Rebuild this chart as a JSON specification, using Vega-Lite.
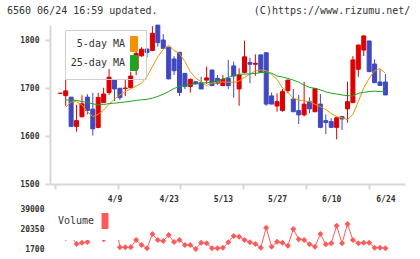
{
  "$schema": "https://vega.github.io/schema/vega-lite/v6.json",
  "width": 355,
  "height": 234,
  "autosize": {"type": "none"},
  "padding": {"left": 50, "top": 25, "right": 15, "bottom": 0},
  "background": "white",
  "config": {"view": {"stroke": null}},
  "title": {
    "text": "6560 06/24 16:59 updated.\u00a0\u00a0\u00a0\u00a0\u00a0\u00a0\u00a0\u00a0\u00a0\u00a0\u00a0\u00a0\u00a0\u00a0\u00a0\u00a0(C)https://www.rizumu.net/",
    "anchor": "start", "frame": "group", "dx": -43, "offset": 1, "baseline": "alphabetic",
    "font": "DejaVu Sans Mono", "fontSize": 10, "fontWeight": "normal", "color": "#333"
  },
  "data": {"values": [
    {"i": -1, "o": 1689, "h": 1689, "l": 1689, "c": 1689, "v": 30000},
    {"i": 0, "o": 1684, "h": 1717, "l": 1663, "c": 1694, "ma5": 1660, "ma25": 1675, "v": 11950},
    {"i": 1, "o": 1681, "h": 1681, "l": 1620, "c": 1620, "ma5": 1671, "ma25": 1675, "v": 13500},
    {"i": 2, "o": 1620, "h": 1665, "l": 1609, "c": 1632, "ma5": 1671.5, "ma25": 1674, "v": 6360},
    {"i": 3, "o": 1640, "h": 1685, "l": 1639, "c": 1667, "ma5": 1664.5, "ma25": 1672, "v": 7575},
    {"i": 4, "o": 1681, "h": 1687, "l": 1645, "c": 1653, "ma5": 1650.5, "ma25": 1670, "v": 8230},
    {"i": 5, "o": 1656, "h": 1690, "l": 1601, "c": 1615, "ma5": 1640.5, "ma25": 1667, "v": 20350},
    {"i": 6, "o": 1618, "h": 1690, "l": 1616, "c": 1680.5, "ma5": 1645, "ma25": 1665, "v": 13350},
    {"i": 7, "o": 1669.5, "h": 1700.5, "l": 1669, "c": 1687.5, "ma5": 1654, "ma25": 1665.5, "v": 10750},
    {"i": 8, "o": 1690.5, "h": 1739.5, "l": 1685.5, "c": 1722.5, "ma5": 1666, "ma25": 1667.5, "v": 13350},
    {"i": 9, "o": 1716.5, "h": 1716.5, "l": 1673, "c": 1698, "ma5": 1677, "ma25": 1668.5, "v": 33000},
    {"i": 10, "o": 1699.5, "h": 1700, "l": 1675, "c": 1680, "ma5": 1685.5, "ma25": 1669.5, "v": 3280},
    {"i": 11, "o": 1699, "h": 1718, "l": 1683, "c": 1700, "ma5": 1692.5, "ma25": 1671, "v": 3280},
    {"i": 12, "o": 1700.5, "h": 1734, "l": 1700, "c": 1725, "ma5": 1698, "ma25": 1672.5, "v": 3280},
    {"i": 13, "o": 1739.5, "h": 1775, "l": 1727, "c": 1772, "ma5": 1704, "ma25": 1674, "v": 10090},
    {"i": 14, "o": 1767, "h": 1785, "l": 1765, "c": 1781, "ma5": 1710, "ma25": 1675.5, "v": 5430},
    {"i": 15, "o": 1781, "h": 1783, "l": 1764, "c": 1774, "ma5": 1723.5, "ma25": 1676.5, "v": 2350},
    {"i": 16, "o": 1778, "h": 1829, "l": 1777, "c": 1814, "ma5": 1744.5, "ma25": 1679, "v": 15690},
    {"i": 17, "o": 1831, "h": 1831, "l": 1786, "c": 1794.5, "ma5": 1765, "ma25": 1682.5, "v": 10090},
    {"i": 18, "o": 1800, "h": 1812.5, "l": 1782, "c": 1782.5, "ma5": 1780.5, "ma25": 1687, "v": 9160},
    {"i": 19, "o": 1785, "h": 1785, "l": 1718, "c": 1719, "ma5": 1789.5, "ma25": 1692.5, "v": 14750},
    {"i": 20, "o": 1760.5, "h": 1766.5, "l": 1727, "c": 1736, "ma5": 1778, "ma25": 1699, "v": 8230},
    {"i": 21, "o": 1774.5, "h": 1774.5, "l": 1683.5, "c": 1690.5, "ma5": 1772, "ma25": 1703, "v": 10090},
    {"i": 22, "o": 1730.5, "h": 1731, "l": 1697.5, "c": 1703, "ma5": 1755, "ma25": 1705.5, "v": 5430},
    {"i": 23, "o": 1703, "h": 1720, "l": 1690.5, "c": 1718, "ma5": 1734, "ma25": 1707, "v": 5430},
    {"i": 24, "o": 1713, "h": 1714, "l": 1707, "c": 1708.5, "ma5": 1720, "ma25": 1709, "v": 1700},
    {"i": 25, "o": 1711, "h": 1723.5, "l": 1698, "c": 1698, "ma5": 1713, "ma25": 1710, "v": 7575},
    {"i": 26, "o": 1716.5, "h": 1744.5, "l": 1708.5, "c": 1721, "ma5": 1705, "ma25": 1711, "v": 6960},
    {"i": 27, "o": 1737.5, "h": 1738, "l": 1704, "c": 1705, "ma5": 1710, "ma25": 1712.5, "v": 2350},
    {"i": 28, "o": 1720, "h": 1727, "l": 1706.5, "c": 1710, "ma5": 1712.5, "ma25": 1715, "v": 2350},
    {"i": 29, "o": 1705, "h": 1727, "l": 1704, "c": 1718, "ma5": 1712.5, "ma25": 1719, "v": 2910},
    {"i": 30, "o": 1720, "h": 1758.5, "l": 1698, "c": 1705, "ma5": 1712, "ma25": 1722, "v": 7950},
    {"i": 31, "o": 1746, "h": 1755, "l": 1680, "c": 1725, "ma5": 1712, "ma25": 1726, "v": 13820},
    {"i": 32, "o": 1698, "h": 1741, "l": 1663, "c": 1727, "ma5": 1714.5, "ma25": 1728.5, "v": 13170},
    {"i": 33, "o": 1732.5, "h": 1798.5, "l": 1730, "c": 1765, "ma5": 1722, "ma25": 1729, "v": 10090},
    {"i": 34, "o": 1753, "h": 1763, "l": 1710, "c": 1749.5, "ma5": 1729, "ma25": 1729.5, "v": 7950},
    {"i": 35, "o": 1749.5, "h": 1770, "l": 1725.5, "c": 1751.5, "ma5": 1735.5, "ma25": 1730.5, "v": 6360},
    {"i": 36, "o": 1769, "h": 1769, "l": 1732.5, "c": 1732.5, "ma5": 1737.5, "ma25": 1732, "v": 2910},
    {"i": 37, "o": 1773.5, "h": 1773.5, "l": 1663, "c": 1666.5, "ma5": 1736, "ma25": 1732, "v": 21560},
    {"i": 38, "o": 1683.5, "h": 1690.5, "l": 1666.5, "c": 1666.5, "ma5": 1728, "ma25": 1731, "v": 3840},
    {"i": 39, "o": 1662.5, "h": 1689, "l": 1650.5, "c": 1671.5, "ma5": 1718, "ma25": 1725, "v": 8500},
    {"i": 40, "o": 1653, "h": 1698, "l": 1650.5, "c": 1692.5, "ma5": 1700, "ma25": 1723, "v": 7575},
    {"i": 41, "o": 1694.5, "h": 1717, "l": 1689, "c": 1716.5, "ma5": 1691, "ma25": 1720, "v": 4780},
    {"i": 42, "o": 1677, "h": 1698, "l": 1650.5, "c": 1650.5, "ma5": 1678.5, "ma25": 1716.5, "v": 20350},
    {"i": 43, "o": 1653, "h": 1685.5, "l": 1625, "c": 1644, "ma5": 1675, "ma25": 1712, "v": 10750},
    {"i": 44, "o": 1644, "h": 1713, "l": 1640.5, "c": 1666.5, "ma5": 1673, "ma25": 1706, "v": 10090},
    {"i": 45, "o": 1671.5, "h": 1680.5, "l": 1647.5, "c": 1656.5, "ma5": 1671.5, "ma25": 1701, "v": 6080},
    {"i": 46, "o": 1650.5, "h": 1700, "l": 1650, "c": 1699, "ma5": 1666, "ma25": 1699.5, "v": 3840},
    {"i": 47, "o": 1666.5, "h": 1687.5, "l": 1616, "c": 1618, "ma5": 1661, "ma25": 1696, "v": 15690},
    {"i": 48, "o": 1632, "h": 1645, "l": 1604, "c": 1628, "ma5": 1655, "ma25": 1692, "v": 6080},
    {"i": 49, "o": 1630, "h": 1637, "l": 1618, "c": 1618, "ma5": 1647, "ma25": 1689, "v": 6960},
    {"i": 50, "o": 1618, "h": 1638, "l": 1593, "c": 1638, "ma5": 1640.5, "ma25": 1687.5, "v": 23430},
    {"i": 51, "o": 1640.5, "h": 1641, "l": 1612.5, "c": 1635.5, "ma5": 1638, "ma25": 1685.5, "v": 6960},
    {"i": 52, "o": 1656.5, "h": 1713, "l": 1628, "c": 1671.5, "ma5": 1634, "ma25": 1684, "v": 25010},
    {"i": 53, "o": 1669.5, "h": 1766.5, "l": 1669, "c": 1758.5, "ma5": 1645, "ma25": 1683.5, "v": 10090},
    {"i": 54, "o": 1739, "h": 1790, "l": 1723.5, "c": 1789.5, "ma5": 1672, "ma25": 1689, "v": 6960},
    {"i": 55, "o": 1779, "h": 1809, "l": 1766.5, "c": 1808.5, "ma5": 1700, "ma25": 1691, "v": 7575},
    {"i": 56, "o": 1798, "h": 1798, "l": 1734, "c": 1734, "ma5": 1720, "ma25": 1692.5, "v": 7575},
    {"i": 57, "o": 1750, "h": 1760, "l": 1711, "c": 1711, "ma5": 1736, "ma25": 1693.5, "v": 2910},
    {"i": 58, "o": 1712.5, "h": 1739, "l": 1705.5, "c": 1705.5, "ma5": 1740.5, "ma25": 1692.5, "v": 2910},
    {"i": 59, "o": 1712.5, "h": 1729, "l": 1685.5, "c": 1685.5, "ma5": 1730.5, "ma25": 1692.5, "v": 2350}
  ]},
  "resolve": {"scale": {"y": "independent", "color": "independent"}, "axis": {"x": "independent"}},
  "layer": [
    {
      "layer": [
        {
          "mark": {"type": "rule", "strokeWidth": 1},
          "encoding": {
            "x": {"field": "i", "type": "quantitative",
              "scale": {"domain": [-1.975, 61.69], "nice": false, "zero": false},
              "axis": {"title": null, "orient": "bottom", "offset": -75, "grid": false, "labels": false,
                "values": [-1.975, 3.815, 9.602, 15.39, 21.177, 26.965, 32.752, 38.54, 44.327, 50.115, 55.902, 61.69],
                "domainColor": "#d8d8d8", "domainWidth": 2, "tickColor": "#d8d8d8", "tickWidth": 2, "tickSize": 5}},
            "y": {"field": "l", "type": "quantitative",
              "scale": {"domain": [1500, 1831.25], "range": [159, 0], "nice": false, "zero": false},
              "axis": {"title": null, "orient": "left", "grid": false, "values": [1500, 1600, 1700, 1800], "format": "d",
                "domainColor": "#d8d8d8", "domainWidth": 2, "tickColor": "#d8d8d8", "tickWidth": 2, "tickSize": 5,
                "labelPadding": 6, "labelFont": "DejaVu Sans Mono", "labelFontSize": 8, "labelFontWeight": "bold",
                "labelColor": "#333", "labelFlush": false, "labelOverlap": false, "labelBaseline": "middle"}},
            "y2": {"field": "h"},
            "color": {"condition": {"test": "datum.c >= datum.o", "value": "#dd0000"}, "value": "#4048c0"}
          }
        },
        {
          "mark": {"type": "bar", "width": 4, "strokeWidth": 1},
          "encoding": {
            "x": {"field": "i", "type": "quantitative"},
            "y": {"field": "o", "type": "quantitative"},
            "y2": {"field": "c"},
            "fill": {"condition": {"test": "datum.c >= datum.o", "value": "#dd0000"}, "value": "#4048c0"},
            "stroke": {"condition": {"test": "datum.c >= datum.o", "value": "#dd0000"}, "value": "#4048c0"}
          }
        },
        {
          "transform": [{"fold": ["ma5", "ma25"], "as": ["ma", "val"]}],
          "mark": {"type": "line", "strokeWidth": 1},
          "encoding": {
            "x": {"field": "i", "type": "quantitative"},
            "y": {"field": "val", "type": "quantitative"},
            "color": {"field": "ma", "type": "nominal",
              "scale": {"domain": ["ma5", "ma25"], "range": ["#f39200", "#1ea51e"]},
              "legend": {"orient": "none", "legendX": 15, "legendY": 5, "direction": "vertical", "title": null,
                "padding": 6, "strokeColor": "#cfcfcf", "fillColor": null,
                "symbolType": "M-0.47,-1V1H0.47V-1Z", "symbolSize": 225, "symbolStrokeWidth": 1,
                "labelFont": "DejaVu Sans Mono", "labelFontSize": 10, "labelColor": "#333",
                "labelAlign": "right", "labelOffset": -17, "symbolOffset": 55, "rowPadding": -1,
                "labelExpr": "datum.value == 'ma5' ? '5-day MA' : '25-day MA'",
                "encode": {"symbols": {"update": {
                  "fill": {"signal": "datum.value == 'ma5' ? '#f39200' : '#1ea51e'"},
                  "stroke": {"value": "#444"}, "strokeWidth": {"value": 1}, "opacity": {"value": 1}}}}}
            }
          }
        }
      ]
    },
    {
      "mark": {"type": "line", "strokeWidth": 1, "point": {"shape": "diamond", "size": 36, "filled": true}},
      "encoding": {
        "x": {"field": "i", "type": "quantitative",
          "axis": {"title": null, "orient": "bottom", "offset": -75, "grid": false, "domain": false, "ticks": false,
            "values": [9, 19, 29, 39, 49, 59],
            "labelExpr": "datum.value == 9 ? '4/9' : datum.value == 19 ? '4/23' : datum.value == 29 ? '5/13' : datum.value == 39 ? '5/27' : datum.value == 49 ? '6/10' : '6/24'",
            "labelPadding": 11, "labelFont": "DejaVu Sans Mono", "labelFontSize": 8, "labelFontWeight": "bold",
            "labelColor": "#333", "labelFlush": false, "labelOverlap": false, "labelBound": false}},
        "y": {"field": "v", "type": "quantitative",
          "scale": {"domain": [1700, 39000], "range": [224, 184], "nice": false, "zero": false},
          "axis": {"title": null, "orient": "left", "grid": false, "domain": false, "ticks": false, "format": "d",
            "values": [1700, 20350, 39000], "labelPadding": 6,
            "labelFont": "DejaVu Sans Mono", "labelFontSize": 8, "labelFontWeight": "bold",
            "labelColor": "#333", "labelFlush": false, "labelOverlap": false, "labelBaseline": "middle"}},
        "color": {"datum": "Volume", "type": "nominal",
          "scale": {"range": ["#ff5a5a"]},
          "legend": {"orient": "none", "legendX": -1, "legendY": 179, "title": null,
            "padding": 9, "fillColor": "white", "strokeColor": null,
            "symbolType": "M-0.4,-1V1H0.4V-1Z", "symbolSize": 225, "symbolStrokeWidth": 1,
            "labelFont": "DejaVu Sans Mono", "labelFontSize": 10, "labelColor": "#333",
            "labelAlign": "left", "labelOffset": -55, "symbolOffset": 39,
            "encode": {"symbols": {"update": {
              "fill": {"value": "#ff5a5a"}, "stroke": {"value": "#444"},
              "strokeWidth": {"value": 1}, "opacity": {"value": 1}}}}}
        }
      }
    }
  ]
}
